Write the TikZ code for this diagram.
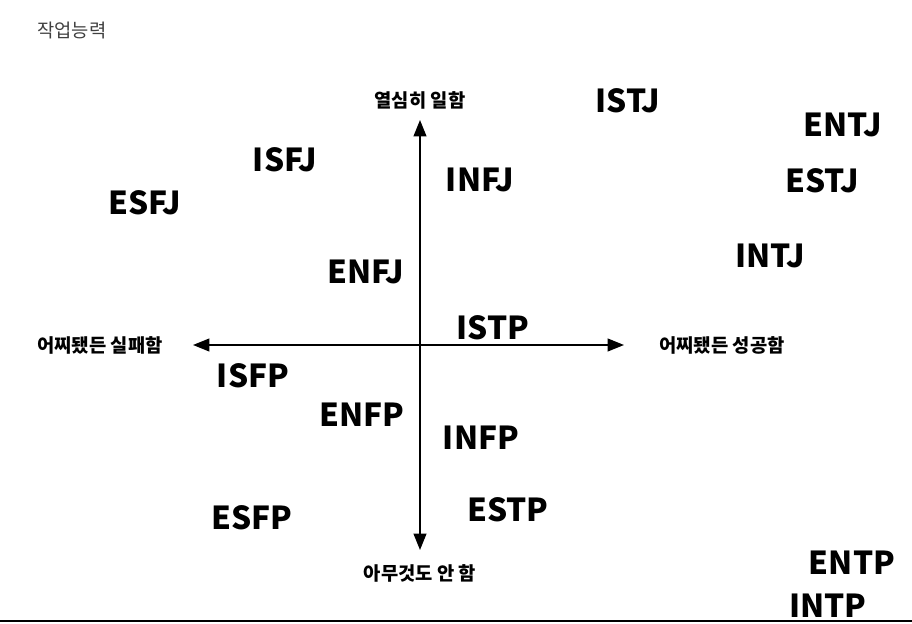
\documentclass[tikz,border=0pt]{standalone}
\usepackage{fontspec}
\setmainfont{Noto Sans CJK KR}
\usetikzlibrary{arrows.meta}

\tikzset{
  mbti/.style={font=\fontsize{27}{30}\selectfont\bfseries},
  axislabel/.style={font=\fontsize{16}{18}\selectfont\bfseries},
  axis/.style={line width=1.2pt, -{Triangle[width=11pt,length=14pt]}}
}

\begin{document}
\begin{tikzpicture}[x=0.03cm, y=-0.03cm]
      \useasboundingbox (0,0) rectangle (912,624);
      % title
      \node[font=\fontsize{16}{18}\selectfont, text=black!75] (title) at (72,30) {작업능력};

      % axes
      \coordinate (c) at (420,345);
      \coordinate (top) at (420,120);
      \coordinate (bot) at (420,550);
      \coordinate (lft) at (193,345);
      \coordinate (rgt) at (624,345);
      \draw[axis] (c) -- (top);
      \draw[axis] (c) -- (bot);
      \draw[axis] (c) -- (lft);
      \draw[axis] (c) -- (rgt);

      \node[axislabel] (work) at (420,100) {열심히 일함};
      \node[axislabel] (idle) at (420,573) {아무것도 안 함};
      \node[axislabel] (fail) at (100,345) {어찌됐든 실패함};
      \node[axislabel] (succ) at (722,345) {어찌됐든 성공함};

      % types
      \node[mbti] (istj) at (628,101) {ISTJ};
      \node[mbti] (entj) at (843,125) {ENTJ};
      \node[mbti] (estj) at (822,181) {ESTJ};
      \node[mbti] (intj) at (770,256) {INTJ};
      \node[mbti] (isfj) at (285,160) {ISFJ};
      \node[mbti] (infj) at (480,180) {INFJ};
      \node[mbti] (esfj) at (145,203) {ESFJ};
      \node[mbti] (enfj) at (366,272) {ENFJ};
      \node[mbti] (istp) at (493,328) {ISTP};
      \node[mbti] (isfp) at (253,376) {ISFP};
      \node[mbti] (enfp) at (362,415) {ENFP};
      \node[mbti] (infp) at (481,438) {INFP};
      \node[mbti] (estp) at (508,510) {ESTP};
      \node[mbti] (esfp) at (252,518) {ESFP};
      \node[mbti] (entp) at (852,563) {ENTP};
      \node[mbti] (intp) at (828,606) {INTP};

      % bottom rule
      \coordinate (bl) at (0,621);
      \coordinate (br) at (912,621);
      \draw[line width=1pt] (bl) -- (br);
\end{tikzpicture}
\end{document}
